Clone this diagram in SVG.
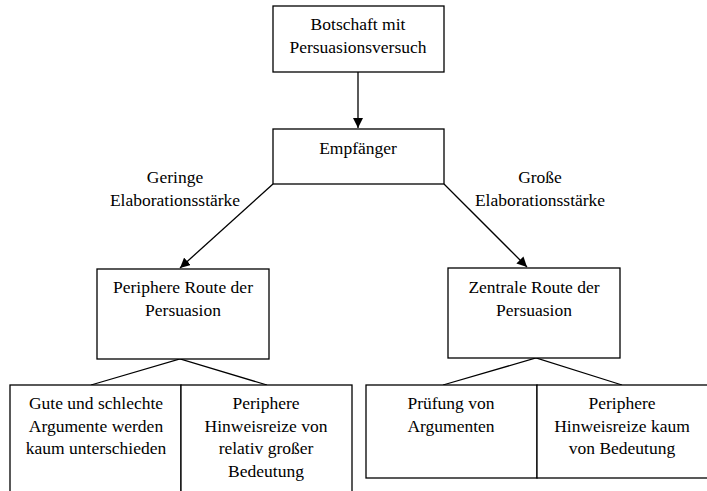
<svg xmlns="http://www.w3.org/2000/svg" width="707" height="491" viewBox="0 0 707 491">
<defs>
<style>
.box{fill:#fff;stroke:#000;stroke-width:1.3}
.ln{fill:none;stroke:#000;stroke-width:1.3}
text{font-family:'Liberation Serif','DejaVu Serif',serif;font-size:17.5px;fill:#000;text-anchor:middle}
</style>
<marker id="ah" viewBox="0 0 10 10" refX="10" refY="5" markerWidth="10" markerHeight="10" markerUnits="userSpaceOnUse" orient="auto">
<path d="M0,0 L10,5 L0,10 z" fill="#000"/>
</marker>
</defs>
<rect width="707" height="491" fill="#fff"/>
<g id="connectors">
<line class="ln" x1="358" y1="72" x2="358" y2="128" marker-end="url(#ah)"/>
<line class="ln" x1="273" y1="184" x2="180" y2="268" marker-end="url(#ah)"/>
<line class="ln" x1="444" y1="184" x2="527" y2="267" marker-end="url(#ah)"/>
<polyline class="ln" points="91,385 180,359 267,385"/>
<polyline class="ln" points="443,385 536,358 622,385"/>
</g>
<g id="n-botschaft">
<rect class="box" x="273" y="6" width="171" height="66"/>
<text x="358" y="30">Botschaft mit</text>
<text x="358" y="53">Persuasionsversuch</text>
</g>
<g id="n-empfaenger">
<rect class="box" x="273" y="129" width="171" height="55"/>
<text x="358" y="154">Empfänger</text>
</g>
<g id="l-geringe">
<text x="175" y="183">Geringe</text>
<text x="175" y="206">Elaborationsstärke</text>
</g>
<g id="l-grosse">
<text x="540" y="183">Große</text>
<text x="540" y="206">Elaborationsstärke</text>
</g>
<g id="n-peripher">
<rect class="box" x="97" y="269" width="172" height="90"/>
<text x="183" y="293">Periphere Route der</text>
<text x="183" y="316">Persuasion</text>
</g>
<g id="n-zentral">
<rect class="box" x="448" y="268" width="172" height="90"/>
<text x="534" y="293">Zentrale Route der</text>
<text x="534" y="316">Persuasion</text>
</g>
<g id="n-gute">
<rect class="box" x="10" y="385" width="171" height="120"/>
<text x="96" y="409">Gute und schlechte</text>
<text x="96" y="432">Argumente werden</text>
<text x="96" y="454">kaum unterschieden</text>
</g>
<g id="n-periphere-gross">
<rect class="box" x="181" y="385" width="171" height="120"/>
<text x="266" y="409">Periphere</text>
<text x="266" y="432">Hinweisreize von</text>
<text x="266" y="454">relativ großer</text>
<text x="266" y="477">Bedeutung</text>
</g>
<g id="n-pruefung">
<rect class="box" x="366" y="385" width="171" height="93"/>
<text x="451" y="409">Prüfung von</text>
<text x="451" y="432">Argumenten</text>
</g>
<g id="n-periphere-kaum">
<rect class="box" x="537" y="385" width="175" height="93"/>
<text x="622" y="409">Periphere</text>
<text x="622" y="432">Hinweisreize kaum</text>
<text x="622" y="454">von Bedeutung</text>
</g>
</svg>
